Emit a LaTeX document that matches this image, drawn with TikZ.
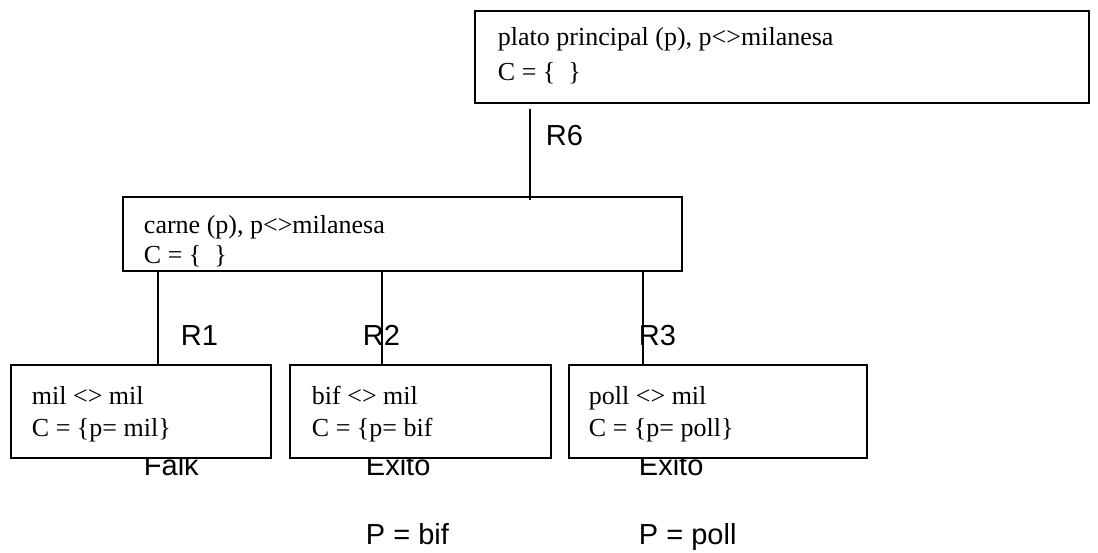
\documentclass[tikz,border=0pt]{standalone}
\usepackage{fontspec}
\setmainfont{Liberation Serif}
\newfontfamily\arialfont{Liberation Sans}
\usetikzlibrary{positioning}
\tikzset{
    goalbox/.style={draw=black, fill=white, rectangle, inner sep=0pt, anchor=north west},
    goaltext/.style={anchor=base west, inner sep=0pt, font=\fontsize{14.8}{17}\selectfont},
    rulelabel/.style={anchor=base west, inner sep=0pt, font=\arialfont\fontsize{16.5}{19}\selectfont},
    branch/.style={draw=black},
}

\begin{document}
\begin{tikzpicture}[x=0.02cm, y=-0.02cm, line width=1.1pt]
\useasboundingbox (0,0) rectangle (1098,552);

% outcomes (partly hidden under the boxes)
\node[rulelabel] (falk)  at (143,475) {Falk};
\node[rulelabel] (exbif) at (365,475) {Exito};
\node[rulelabel] (expol) at (638,475) {Exito};
\node[rulelabel] (pbif)  at (365,544) {P = bif};
\node[rulelabel] (ppol)  at (638,544) {P = poll};

% goal boxes
\node[goalbox, minimum width=12.28cm, minimum height=1.84cm] (plato) at (474,10) {};
\node[goalbox, minimum width=11.18cm, minimum height=1.48cm] (carne) at (122,196) {};
\node[goalbox, minimum width=5.2cm,  minimum height=1.86cm] (mil)   at (10,364) {};
\node[goalbox, minimum width=5.22cm, minimum height=1.86cm] (bif)   at (289,364) {};
\node[goalbox, minimum width=5.96cm, minimum height=1.86cm] (poll)  at (568,364) {};

\coordinate (r6) at (530,0);
\coordinate (l1) at (158,0);
\coordinate (l2) at (382,0);
\coordinate (l3) at (643,0);

\draw[branch] ([yshift=-0.1cm]plato.south -| r6) -- ([yshift=-0.08cm]carne.north -| r6);
\draw[branch] (carne.south -| l1) -- (mil.north -| l1);
\draw[branch] (carne.south -| l2) -- (bif.north -| l2);
\draw[branch] (carne.south -| l3) -- (poll.north -| l3);

\node[rulelabel] (lr6) at (545,145) {R6};
\node[rulelabel] (lr1) at (180,345) {R1};
\node[rulelabel] (lr2) at (362,345) {R2};
\node[rulelabel] (lr3) at (638,345) {R3};

% box texts
\node[goaltext] (platoa) at (497,45) {plato principal (p), p<>milanesa};
\node[goaltext] (platob) at (497,80) {C = \{\ \ \}};
\node[goaltext] (carnea) at (143,233) {carne (p), p<>milanesa};
\node[goaltext] (carneb) at (143,263) {C = \{\ \ \}};
\node[goaltext] (mila)   at (31,404) {mil <> mil};
\node[goaltext] (milb)   at (31,436) {C = \{p= mil\}};
\node[goaltext] (bifa)   at (311,404) {bif <> mil};
\node[goaltext] (bifb)   at (311,436) {C = \{p= bif};
\node[goaltext] (polla)  at (588,404) {poll <> mil};
\node[goaltext] (pollb)  at (588,436) {C = \{p= poll\}};

\end{tikzpicture}
\end{document}
